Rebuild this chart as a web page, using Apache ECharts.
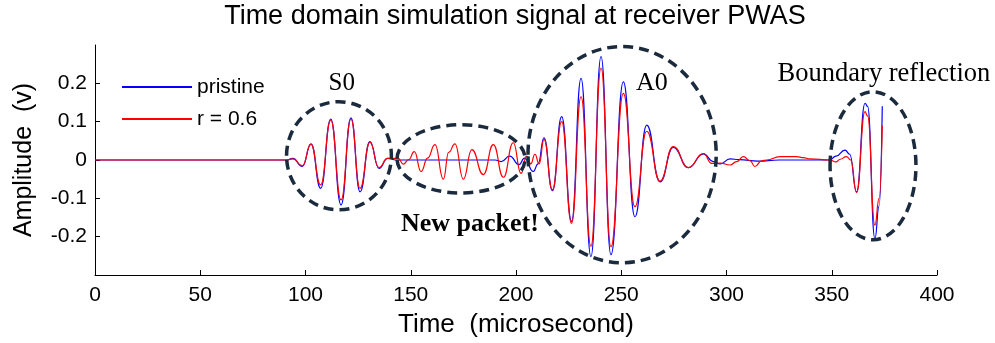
<!DOCTYPE html>
<html><head><meta charset="utf-8">
<script src="https://cdn.jsdelivr.net/npm/echarts@6/dist/echarts.min.js"></script>
<style>html,body{margin:0;padding:0;background:#fff}#c{width:995px;height:343px}</style>
</head><body><div id="c"></div>
<script>
// ---- data (time in microseconds, amplitude in volts) ----
const seriesNames = ['pristine', 'r = 0.6'];
const pristine = [[0,0],[91,0],[94,0.004],[98.5,-0.017],[102.6,0.042],[107.2,-0.074],[112,0.107],[116.9,-0.117],[121.6,0.11],[125.9,-0.083],[130.6,0.048],[134.9,-0.022],[139,0.004],[143,0],[190,0],[193,-0.004],[197,0.01],[201.5,-0.012],[204,0.005],[208.2,-0.03],[210.5,-0.01],[213.3,0.058],[217.3,-0.08],[221.7,0.113],[226.4,-0.16],[230.9,0.213],[235.6,-0.252],[240.4,0.27],[245.1,-0.247],[251,0.204],[256.5,-0.148],[262.1,0.091],[268.4,-0.057],[274.7,0.033],[281.9,-0.02],[289,0.016],[293.7,-0.004],[297,-0.01],[301.7,0.003],[306,0.001],[315,-0.003],[325,0],[349,0],[352,0.01],[356.3,0.026],[358.5,0.015],[361.8,-0.083],[365.8,0.148],[367,0.14],[370.5,-0.205],[372.5,-0.12],[374,0.14]];
const damaged = [[0,0],[91,0],[94,0.003],[98.5,-0.015],[102.6,0.041],[107.2,-0.065],[112,0.104],[116.9,-0.104],[121.6,0.107],[125.9,-0.074],[130.6,0.046],[134.9,-0.02],[139,0.004],[144,0.004],[146.5,-0.011],[149,0.001],[151.7,0.022],[154.9,-0.03],[158,0.005],[161.5,0.04],[165.5,-0.05],[168,0.02],[171,0.042],[175,-0.05],[179,0.027],[184.5,-0.038],[189.2,0.04],[194,-0.045],[198.7,0.045],[202.4,-0.035],[205,0.01],[207,-0.01],[209,0.015],[211,-0.01],[213.3,0.054],[217.3,-0.078],[221.7,0.1],[226.4,-0.165],[230.9,0.165],[235.6,-0.225],[240.4,0.24],[245.1,-0.226],[251,0.174],[256.5,-0.122],[262.1,0.075],[268.4,-0.055],[274.7,0.035],[281.9,-0.02],[289,0.017],[293,-0.009],[297,-0.008],[301.7,-0.013],[304.8,-0.004],[308,0.009],[311.2,-0.002],[313.5,-0.017],[316.7,-0.002],[319.1,0],[325.4,0.009],[333.3,0.009],[336.5,0.006],[339.7,0.003],[349.2,0],[352,-0.005],[354,0.002],[357,0.009],[359,0],[361.8,-0.085],[365.8,0.126],[367,0.115],[370.5,-0.17],[372.5,-0.1],[374,0.09]];
const xTicks = [0,50,100,150,200,250,300,350,400];
const yTicks = [-0.3,-0.2,-0.1,0,0.1,0.2,0.3];

// ---- annotations (data coordinates) ----
const annoTexts = ['S0', 'A0', 'Boundary reflection', 'New packet!'];
const annoTextAt = [[117.2,0.2],[264.6,0.2],[374.8,0.223],[178.1,-0.167]];
const ellipseAt = [[115.9,0.011,24.9,0.141],[173.9,0.003,30.4,0.089],[250.4,0.014,44.7,0.282],[369.6,-0.015,20.4,0.193]];

const SANS = 'Liberation Sans, Arial, sans-serif';
const SERIF = 'Liberation Serif, Times New Roman, serif';
const chart = echarts.init(document.getElementById('c'), null, {renderer:'canvas'});
chart.setOption({
  animation:false,
  backgroundColor:'#fff',
  title:{text:'Time domain simulation signal at receiver PWAS', left:515, textAlign:'center', top:3, padding:0,
    textStyle:{fontFamily:SANS, fontSize:27, fontWeight:'normal', color:'#000'}},
  legend:{orient:'vertical', left:117, top:71, itemWidth:70, itemHeight:2, itemGap:10, icon:'rect',
    textStyle:{fontFamily:SANS, fontSize:21, lineHeight:22, color:'#000'}},
  grid:{left:95, right:58, top:45, bottom:68},
  xAxis:{type:'value', min:xTicks[0], max:xTicks[xTicks.length-1], interval:50,
    name:'Time  (microsecond)', nameLocation:'middle', nameGap:37,
    nameTextStyle:{fontFamily:SANS, fontSize:26, color:'#000'},
    axisLine:{onZero:false, lineStyle:{color:'#000', width:1}}, axisTick:{inside:true, length:5, lineStyle:{color:'#000'}},
    axisLabel:{fontFamily:SANS, fontSize:21, color:'#000', margin:10}, splitLine:{show:false}},
  yAxis:{type:'value', min:yTicks[0], max:yTicks[yTicks.length-1], interval:0.1,
    name:'Amplitude  (v)', nameLocation:'middle', nameGap:58,
    nameTextStyle:{fontFamily:SANS, fontSize:25, color:'#000'},
    axisLine:{show:true, onZero:false, lineStyle:{color:'#000', width:1}}, axisTick:{show:true, inside:true, length:5, lineStyle:{color:'#000'}},
    axisLabel:{fontFamily:SANS, fontSize:21, color:'#000', margin:8, showMinLabel:false, showMaxLabel:false,
      formatter:v=>String(Math.round(v*10)/10)}, splitLine:{show:false}},
  series:[
    {name:seriesNames[0], type:'line', data:pristine, showSymbol:false, smooth:0.5, smoothMonotone:'x', color:'#0000ff', lineStyle:{width:1.2, color:'#0000ff'}},
    {name:seriesNames[1], type:'line', data:damaged, showSymbol:false, smooth:0.5, smoothMonotone:'x', color:'#ff0000', lineStyle:{width:1.2, color:'#ff0000'}}
  ]
});

function px(p){ return chart.convertToPixel({gridIndex:0}, p); }
const g = [];
ellipseAt.forEach(e=>{
  const c = px([e[0], e[1]]);
  const r = px([e[0]+e[2], e[1]+e[3]]);
  g.push({type:'ellipse', shape:{cx:c[0], cy:c[1], rx:Math.abs(r[0]-c[0]), ry:Math.abs(r[1]-c[1])},
    style:{fill:null, stroke:'#1b2b3d', lineWidth:3.5, lineDash:[10,6]}, z:100});
});
const annoFont = [25, 26, 26.5, 26];
annoTexts.forEach((t,i)=>{
  const p = px(annoTextAt[i]);
  g.push({type:'text', x:p[0], y:p[1], z:101, style:{text:t, fontFamily:SERIF, fontSize:annoFont[i],
    fontWeight: i===3 ? 'bold' : 'normal', fill:'#000', align:'center', verticalAlign:'middle'}});
});
chart.setOption({graphic:g});
</script></body></html>
